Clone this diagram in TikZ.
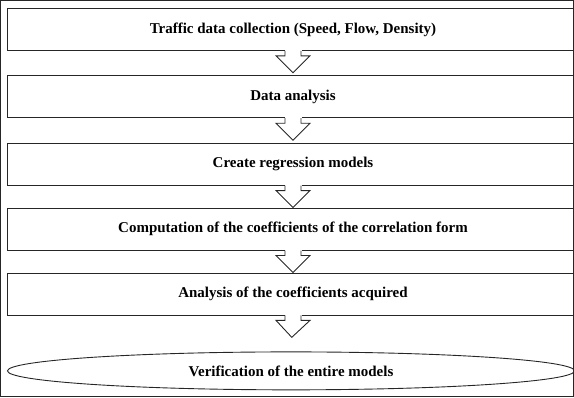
\documentclass[tikz,border=0pt]{standalone}
\usepackage{fontspec}
\setmainfont{Liberation Serif}
\usetikzlibrary{shapes.geometric,calc}

% block arrow from one step to the next
\newcommand{\flowarrow}[2]{%
	\fill[white] ($(#1.south)+(-8,1)$) rectangle ($(#1.south)+(8,-5)$);
	\draw ($(#1.south)+(-8,0)$) -- ++(0,-5) -- ++(-9,0) -- ($(#1.south)!22pt!(#2.north)$)
		-- ($(#1.south)+(17,-5)$) -- ++(-9,0) -- ++(0,5);}

\begin{document}
\begin{tikzpicture}[x=1pt, y=1pt,
	every node/.style={draw=black!85, line width=0.9pt, font=\bfseries\fontsize{15}{17}\selectfont},
	every path/.style={draw=black!85, line width=0.9pt},
	stepbox/.style={rectangle, minimum width=572, minimum height=42, inner sep=0},
	endoval/.style={ellipse, minimum width=568, minimum height=38, inner sep=0}]
			\useasboundingbox (0,0) rectangle (574,-397);
			
			\node[stepbox] (collect) at (293,-29){Traffic data collection (Speed, Flow, Density)};
			\node[stepbox] (analyse) at (293,-96.5){Data analysis};
			\node[stepbox] (regress) at (293,-164){Create regression models};
			\node[stepbox] (coeff) at (293,-229){Computation of the coefficients of the correlation form};
			\node[stepbox] (acquire) at (293,-294){Analysis of the coefficients acquired};
			\node[endoval] (verify) at (291,-371){Verification of the entire models};
			
			\flowarrow{collect}{analyse}
			\flowarrow{analyse}{regress}
			\flowarrow{regress}{coeff}
			\flowarrow{coeff}{acquire}
			\flowarrow{acquire}{verify}
\end{tikzpicture}
\end{document}
